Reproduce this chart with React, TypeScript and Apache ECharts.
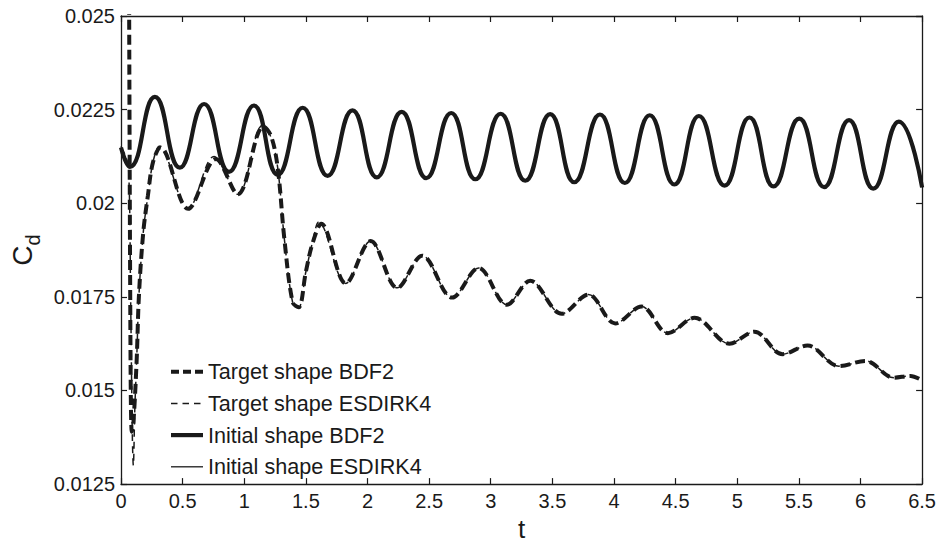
import React, { useEffect, useRef } from "react";
import * as echarts from "echarts";

// ---- axis ticks ----
const xTicks = [0, 0.5, 1, 1.5, 2, 2.5, 3, 3.5, 4, 4.5, 5, 5.5, 6, 6.5];
const yTicks = [0.0125, 0.015, 0.0175, 0.02, 0.0225, 0.025];
const yTickLabels = ["0.0125", "0.015", "0.0175", "0.02", "0.0225", "0.025"];

// ---- series names (legend order) ----
const seriesNames = [
  "Target shape BDF2",
  "Target shape ESDIRK4",
  "Initial shape BDF2",
  "Initial shape ESDIRK4",
];

// ---- Initial shape (time, Cd) ----
const initT = [
  0, 0.073, 0.275, 0.477, 0.674, 0.876, 1.078, 1.272, 1.474, 1.676, 1.878, 2.075,
  2.277, 2.477, 2.679, 2.875, 3.08, 3.28, 3.482, 3.678, 3.886, 4.088, 4.29, 4.49,
  4.689, 4.897, 5.099, 5.295, 5.503, 5.705, 5.907, 6.104, 6.311, 6.5,
];
const initBDF2 = [
  0.02149, 0.02097, 0.02284, 0.02095, 0.02265, 0.02084, 0.02261, 0.02076, 0.02255,
  0.02073, 0.02248, 0.02069, 0.02244, 0.02067, 0.02241, 0.02064, 0.02239, 0.0206,
  0.02238, 0.02056, 0.02237, 0.02054, 0.02235, 0.0205, 0.02233, 0.02047, 0.02229,
  0.02045, 0.02226, 0.02043, 0.02222, 0.02039, 0.02218, 0.02042,
];
const initESDIRK4 = [
  0.02152, 0.02102, 0.02282, 0.02097, 0.02263, 0.02086, 0.02259, 0.02078, 0.02254,
  0.02074, 0.02247, 0.0207, 0.02243, 0.02068, 0.0224, 0.02065, 0.02238, 0.02061,
  0.02237, 0.02057, 0.02236, 0.02055, 0.02234, 0.02051, 0.02232, 0.02048, 0.02228,
  0.02046, 0.02225, 0.02044, 0.02221, 0.0204, 0.02217, 0.02043,
];

// ---- Target shape BDF2 (time, Cd) ----
const tgtBDF2T = [
  0.065, 0.078, 0.088, 0.1, 0.127, 0.145, 0.18, 0.218, 0.26, 0.32, 0.544, 0.77,
  0.948, 1.155, 1.218, 1.272, 1.326, 1.393, 1.441, 1.5, 1.555, 1.625, 1.824, 2.026,
  2.242, 2.444, 2.687, 2.902, 3.131, 3.32, 3.576, 3.792, 4.01, 4.223, 4.438, 4.654,
  4.937, 5.139, 5.368, 5.57, 5.826, 6.041, 6.271, 6.405, 6.5,
];
const tgtBDF2 = [
  0.0265, 0.0155, 0.0139, 0.0141, 0.0158, 0.0175, 0.0192, 0.0202, 0.0211, 0.02149,
  0.01985, 0.02118, 0.02024, 0.02205, 0.02179, 0.02093, 0.01903, 0.01735, 0.01722,
  0.01817, 0.01894, 0.01945, 0.01786, 0.01899, 0.01774, 0.0186, 0.01748, 0.01827,
  0.01729, 0.01793, 0.01705, 0.01756, 0.01679, 0.01724, 0.01653, 0.01694, 0.01625,
  0.01657, 0.01597, 0.0162, 0.01565, 0.01579, 0.01534, 0.01539, 0.01527,
];

// ---- Target shape ESDIRK4 (time, Cd) ----
const tgtESDIRK4T = [
  0, 0.035, 0.062, 0.078, 0.092, 0.1, 0.112, 0.127, 0.145, 0.18, 0.218, 0.26, 0.31,
  0.544, 0.755, 0.948, 1.15, 1.218, 1.272, 1.326, 1.393, 1.441, 1.5, 1.555, 1.605,
  1.824, 2.026, 2.242, 2.444, 2.687, 2.902, 3.131, 3.32, 3.576, 3.792, 4.01, 4.223,
  4.438, 4.654, 4.937, 5.139, 5.368, 5.57, 5.826, 6.041, 6.271, 6.405, 6.5,
];
const tgtESDIRK4 = [
  0.02148, 0.02128, 0.0209, 0.0175, 0.0138, 0.013, 0.0145, 0.0158, 0.0175, 0.0192,
  0.0202, 0.0211, 0.02152, 0.01985, 0.02125, 0.02024, 0.02209, 0.02175, 0.02093,
  0.01903, 0.01735, 0.01722, 0.01817, 0.01897, 0.0195, 0.01786, 0.01899, 0.01774,
  0.0186, 0.01748, 0.01827, 0.01729, 0.01793, 0.01705, 0.01756, 0.01679, 0.01724,
  0.01653, 0.01694, 0.01625, 0.01657, 0.01597, 0.0162, 0.01565, 0.01579, 0.01534,
  0.01539, 0.01527,
];

const zip = (xs: number[], ys: number[]) => xs.map((x, i) => [x, ys[i]]);

const FONT = "'Liberation Sans', Arial, Helvetica, sans-serif";
const INK = "#1a1a1a";

// line styles per series name
const styles: Record<string, { width: number; dash: number[] | null }> = {
  "Target shape BDF2": { width: 4, dash: [10, 5] },
  "Target shape ESDIRK4": { width: 1.5, dash: [7, 5] },
  "Initial shape BDF2": { width: 4.2, dash: null },
  "Initial shape ESDIRK4": { width: 1.3, dash: null },
};

export default function App() {
  const ref = useRef<HTMLDivElement>(null);

  useEffect(() => {
    if (!ref.current) return;
    const chart = echarts.init(ref.current, undefined, { renderer: "svg" });

    const xStep = xTicks[1] - xTicks[0];
    const yStep = yTicks[1] - yTicks[0];
    const yFmt = (v: number) => {
      const i = yTicks.findIndex((t) => Math.abs(t - v) < 1e-9);
      return i >= 0 ? yTickLabels[i] : "";
    };

    const baseAxis = {
      axisLine: { show: true, onZero: false, lineStyle: { color: INK, width: 1.3 } },
      axisTick: { show: true, inside: true, length: 6, lineStyle: { color: INK, width: 1.2 } },
      splitLine: { show: false },
    };

    const lineStyleOf = (name: string) => {
      const s = styles[name];
      return s.dash
        ? { color: INK, width: s.width, type: s.dash, cap: "butt" }
        : { color: INK, width: s.width };
    };

    // legend drawn as graphic (line sample + text)
    const legendLeft = 171;
    const legendTop = 371.7;
    const legendStep = 31.7;
    const legendGraphics: any[] = [];
    seriesNames.forEach((name, i) => {
      const y = legendTop + i * legendStep;
      const s = styles[name];
      legendGraphics.push({
        type: "line",
        shape: { x1: legendLeft, y1: y, x2: legendLeft + 32, y2: y },
        style: {
          stroke: INK,
          lineWidth: s.width,
          lineDash: s.dash ? (i === 0 ? [8, 4] : [6.5, 5]) : undefined,
        },
        silent: true,
      });
      legendGraphics.push({
        type: "text",
        x: legendLeft + 37,
        y,
        style: {
          text: name,
          fontFamily: FONT,
          fontSize: 21.6,
          fill: INK,
          verticalAlign: "middle",
          align: "left",
        },
        silent: true,
      });
    });

    chart.setOption({
      animation: false,
      backgroundColor: "#ffffff",
      grid: { left: 121, top: 16, width: 804, height: 483, containLabel: false },
      graphic: legendGraphics,
      xAxis: [
        {
          ...baseAxis,
          type: "value",
          position: "bottom",
          min: xTicks[0],
          max: xTicks[xTicks.length - 1],
          interval: xStep,
          name: "t",
          nameLocation: "middle",
          nameGap: 25,
          nameTextStyle: { fontFamily: FONT, fontSize: 26, color: INK },
          axisLabel: {
            fontFamily: FONT,
            fontSize: 20,
            color: INK,
            margin: 7,
            formatter: (v: number) => String(+v.toFixed(2)),
          },
        },
        {
          ...baseAxis,
          type: "value",
          position: "top",
          min: xTicks[0],
          max: xTicks[xTicks.length - 1],
          interval: xStep,
          axisLabel: { show: false },
        },
      ],
      yAxis: [
        {
          ...baseAxis,
          type: "value",
          position: "left",
          min: yTicks[0],
          max: yTicks[yTicks.length - 1],
          interval: yStep,
          name: "{c|C}{d|d}",
          nameLocation: "middle",
          nameGap: 76,
          nameTextStyle: {
            rich: {
              c: { fontFamily: FONT, fontSize: 28, color: INK, lineHeight: 40, verticalAlign: "middle" },
              d: { fontFamily: FONT, fontSize: 20, color: INK, lineHeight: 20, verticalAlign: "bottom" },
            },
          },
          axisLabel: { fontFamily: FONT, fontSize: 20, color: INK, margin: 6, formatter: yFmt },
        },
        {
          ...baseAxis,
          type: "value",
          position: "right",
          min: yTicks[0],
          max: yTicks[yTicks.length - 1],
          interval: yStep,
          axisLabel: { show: false },
        },
      ],
      series: [
        {
          name: seriesNames[2],
          type: "line",
          data: zip(initT, initBDF2),
          symbol: "none",
          smooth: true,
          lineStyle: lineStyleOf(seriesNames[2]),
          z: 2,
        },
        {
          name: seriesNames[3],
          type: "line",
          data: zip(initT, initESDIRK4),
          symbol: "none",
          smooth: true,
          lineStyle: lineStyleOf(seriesNames[3]),
          z: 3,
        },
        {
          name: seriesNames[0],
          type: "line",
          data: zip(tgtBDF2T, tgtBDF2),
          symbol: "none",
          smooth: 0.35,
          lineStyle: lineStyleOf(seriesNames[0]),
          z: 4,
        },
        {
          name: seriesNames[1],
          type: "line",
          data: zip(tgtESDIRK4T, tgtESDIRK4),
          symbol: "none",
          smooth: 0.35,
          lineStyle: lineStyleOf(seriesNames[1]),
          z: 5,
        },
      ],
    });

    return () => chart.dispose();
  }, []);

  return (
    <div
      ref={ref}
      style={{ position: "fixed", left: 0, top: 0, width: 939, height: 547, background: "#fff" }}
    />
  );
}
